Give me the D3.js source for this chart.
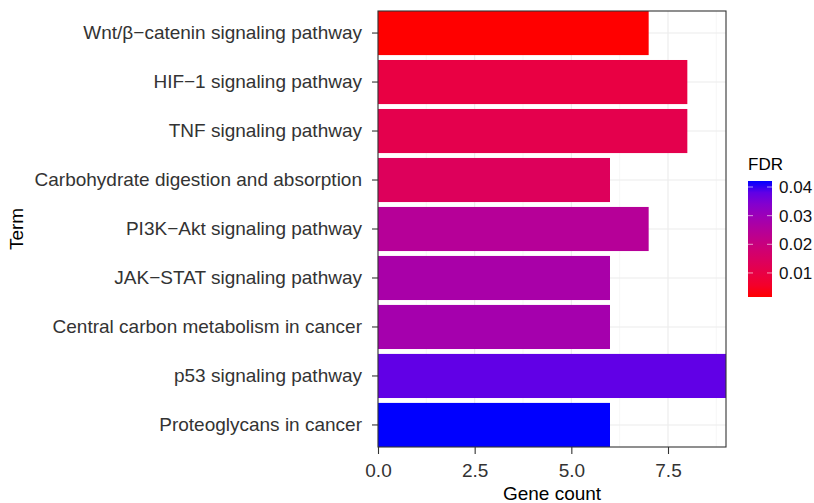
<!DOCTYPE html>
<html>
<head>
<meta charset="utf-8">
<script src="https://cdn.jsdelivr.net/npm/d3@7"></script>
<style>
  body { margin: 0; background: #fff; }
  text { font-family: "Liberation Sans", Arial, sans-serif; }
</style>
</head>
<body>
<script>
const terms = [
    "Wnt/β\u2212catenin signaling pathway",
    "HIF\u22121 signaling pathway",
    "TNF signaling pathway",
    "Carbohydrate digestion and absorption",
    "PI3K\u2212Akt signaling pathway",
    "JAK\u2212STAT signaling pathway",
    "Central carbon metabolism in cancer",
    "p53 signaling pathway",
    "Proteoglycans in cancer"
]
const geneCount = [7, 8, 8, 6, 7, 6, 6, 9, 6]
const fdr = [0.0016, 0.0097, 0.0113, 0.0138, 0.0247, 0.0275, 0.0283, 0.038, 0.0421]
const xTicks = [0, 2.5, 5, 7.5]
const xMinor = [1.25, 3.75, 6.25, 8.75]
const fdrTicks = [0.01, 0.02, 0.03, 0.04]

const width = 814, height = 503
const panel = { left: 378, right: 726, top: 11, bottom: 447 }

const svg = d3.select("body")
    .append("svg")
    .attr("width", width)
    .attr("height", height)

const xScale = d3.scaleLinear().domain([0, 9]).range([panel.left, panel.right])
const yScale = d3.scaleBand().domain(terms).range([panel.top, panel.bottom])
    .paddingInner(0.1).paddingOuter(0)

const fdrExtent = d3.extent(fdr)
const color = d3.scaleLinear().domain(fdrExtent).range(["red", "blue"])
    .interpolate(d3.interpolateLab)

// grid
const grid = svg.append("g")
xMinor.forEach(v => {
    grid.append("line").attr("x1", xScale(v)).attr("x2", xScale(v))
        .attr("y1", panel.top).attr("y2", panel.bottom)
        .attr("stroke", "#f2f2f2").attr("stroke-width", 0.6)
})
xTicks.forEach(v => {
    grid.append("line").attr("x1", xScale(v)).attr("x2", xScale(v))
        .attr("y1", panel.top).attr("y2", panel.bottom)
        .attr("stroke", "#ebebeb").attr("stroke-width", 1.1)
})
terms.forEach(t => {
    const y = yScale(t) + yScale.bandwidth() / 2
    grid.append("line").attr("x1", panel.left).attr("x2", panel.right)
        .attr("y1", y).attr("y2", y)
        .attr("stroke", "#ebebeb").attr("stroke-width", 1.1)
})

// bars
svg.selectAll(".bar")
    .data(terms)
    .enter().append("rect")
    .attr("class", "bar")
    .attr("x", xScale(0))
    .attr("y", d => yScale(d))
    .attr("width", (d, i) => xScale(geneCount[i]) - xScale(0))
    .attr("height", yScale.bandwidth())
    .attr("fill", (d, i) => color(fdr[i]))

// panel border
svg.append("rect")
    .attr("x", panel.left).attr("y", panel.top)
    .attr("width", panel.right - panel.left).attr("height", panel.bottom - panel.top)
    .attr("fill", "none").attr("stroke", "#333").attr("stroke-width", 1.1)

// axes
const xaxis = d3.axisBottom(xScale).tickValues(xTicks).tickFormat(d3.format(".1f"))
    .tickSize(7).tickPadding(10)
const gx = svg.append("g")
    .attr("transform", `translate(0,${panel.bottom})`)
    .call(xaxis)
gx.select(".domain").remove()
gx.selectAll("line").attr("stroke", "#333").attr("stroke-width", 1.1)
gx.selectAll("text").attr("fill", "#333").style("font-size", "19px")

const yaxis = d3.axisLeft(yScale).tickSize(6).tickPadding(10)
const gy = svg.append("g")
    .attr("transform", `translate(${panel.left},0)`)
    .call(yaxis)
gy.select(".domain").remove()
gy.selectAll("line").attr("stroke", "#333").attr("stroke-width", 1.1)
gy.selectAll("text").attr("fill", "#333").style("font-size", "19px")

svg.append("text")
    .attr("x", (panel.left + panel.right) / 2).attr("y", 500)
    .attr("text-anchor", "middle").style("font-size", "19px")
    .text("Gene count")

svg.append("text")
    .attr("transform", `translate(23,${(panel.top + panel.bottom) / 2}) rotate(-90)`)
    .attr("text-anchor", "middle").style("font-size", "19px")
    .text("Term")

// legend
const lg = { x: 748, w: 24, top: 181, bottom: 297 }
const lScale = d3.scaleLinear().domain(fdrExtent).range([lg.bottom, lg.top])

const defs = svg.append("defs")
const grad = defs.append("linearGradient").attr("id", "fdrgrad")
    .attr("x1", 0).attr("x2", 0).attr("y1", 1).attr("y2", 0)
d3.range(0, 1.0001, 0.1).forEach(t => {
    grad.append("stop").attr("offset", t)
        .attr("stop-color", color(fdrExtent[0] + t * (fdrExtent[1] - fdrExtent[0])))
})
svg.append("rect")
    .attr("x", lg.x).attr("y", lg.top)
    .attr("width", lg.w).attr("height", lg.bottom - lg.top)
    .attr("fill", "url(#fdrgrad)")

fdrTicks.forEach(v => {
    const y = lScale(v)
    svg.append("line").attr("x1", lg.x).attr("x2", lg.x + 5)
        .attr("y1", y).attr("y2", y).attr("stroke", "#fff").attr("stroke-opacity", 0.6)
    svg.append("line").attr("x1", lg.x + lg.w - 5).attr("x2", lg.x + lg.w)
        .attr("y1", y).attr("y2", y).attr("stroke", "#fff").attr("stroke-opacity", 0.6)
    svg.append("text").attr("x", lg.x + lg.w + 7).attr("y", y + 6)
        .style("font-size", "17px").attr("fill", "#111")
        .text(d3.format(".2f")(v))
})

svg.append("text")
    .attr("x", lg.x).attr("y", 170)
    .style("font-size", "17px")
    .text("FDR")
</script>
</body>
</html>
